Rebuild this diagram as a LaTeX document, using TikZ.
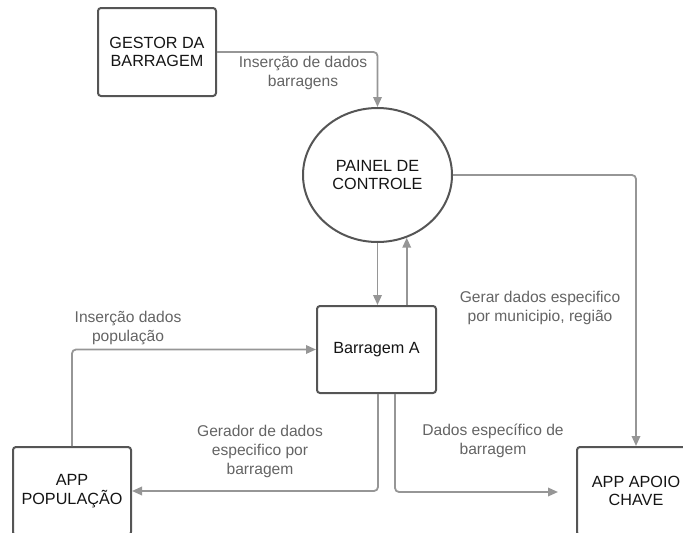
\documentclass[tikz,border=0pt]{standalone}
\usepackage{fontspec}
\setmainfont{Liberation Sans}
\usetikzlibrary{arrows.meta,calc,shapes.geometric}
\definecolor{edgegrey}{RGB}{150,150,150}
\definecolor{bordergrey}{RGB}{85,85,85}
\definecolor{labelgrey}{RGB}{100,100,100}
\definecolor{textblack}{RGB}{20,20,20}
\tikzset{
  boxnode/.style={draw=bordergrey, line width=2pt, rounded corners=3pt, minimum width=118pt, minimum height=88pt, inner sep=0pt, align=center, text=textblack, font=\fontsize{16.2}{18.5}\selectfont},
  ellnode/.style={draw=bordergrey, line width=2pt, ellipse, minimum width=149pt, minimum height=134pt, inner sep=0pt, align=center, text=textblack, font=\fontsize{16.2}{18.5}\selectfont},
  conn/.style={draw=edgegrey, line width=1.8pt, rounded corners=4pt, -{Triangle[length=10pt,width=8.5pt]}},
  lbl/.style={align=center, text=labelgrey, inner sep=0pt, font=\fontsize{15.6}{19}\selectfont}
}
\begin{document}
\begin{tikzpicture}[x=1pt,y=-1pt]
\useasboundingbox (0,0) rectangle (683,533);
% nodes
\node[boxnode] (g) at (157,52) {GESTOR DA\\BARRAGEM};
\node[ellnode] (p) at (377.5,175) {PAINEL DE\\CONTROLE};
\node[boxnode, minimum width=119pt, minimum height=87pt] (b) at (376.5,349.5) {Barragem A};
\node[boxnode] (pop) at (72,491) {APP\\POPULAÇÃO};
\node[boxnode] (a) at (636,491) {APP APOIO\\CHAVE};
\coordinate (e1) at (558,492);
% connectors
\draw[conn] (g.east) -| (p.north);
\draw[conn] (p.south) -- (p.south |- b.north);
\draw[conn] (p.-65 |- b.north) -- (p.-65);
\draw[conn] (p.east) -| (a.north);
\draw[conn] ($(b.south)+(18.5,0)$) |- (e1);
\draw[conn] ($(b.south)+(1.5,0)$) |- (pop.east);
\draw[conn] (pop.north) |- (b.west);
% labels
\node[lbl] (l1) at (303,72.5) {Inserção de dados\\barragens};
\node[lbl] (l2) at (540,307.5) {Gerar dados especifico\\por municipio, região};
\node[lbl] (l3) at (128,327.5) {Inserção dados\\população};
\node[lbl] (l4) at (260,451) {Gerador de dados\\especifico por\\barragem};
\node[lbl] (l5) at (493,441) {Dados específico de\\barragem};
\end{tikzpicture}
\end{document}
